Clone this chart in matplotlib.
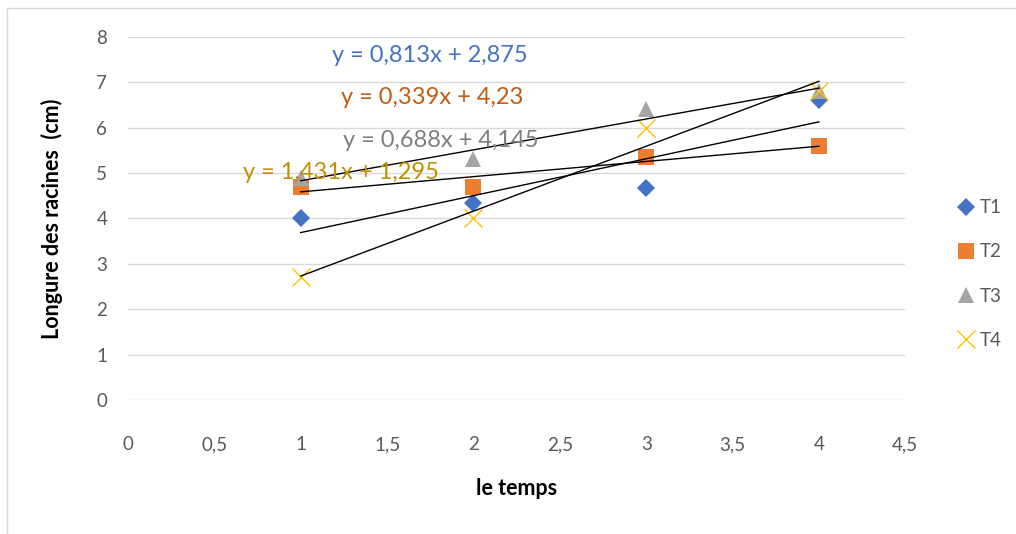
import matplotlib.pyplot as plt
import numpy as np
from matplotlib.patches import Rectangle

# temps (x) et longueur des racines pour chaque traitement
temps = [1, 2, 3, 4]
t1 = [4.0, 4.35, 4.68, 6.6]
t2 = [4.7, 4.7, 5.35, 5.6]
t3 = [4.9, 5.3, 6.4, 6.8]
t4 = [2.7, 4.0, 6.0, 6.8]

series_names = ['T1', 'T2', 'T3', 'T4']
equations = ['y = 0,813x + 2,875', 'y = 0,339x + 4,23',
             'y = 0,688x + 4,145', 'y = 1,431x + 1,295']
eq_pos = [(1.75, 7.58), (1.76, 6.67), (1.81, 5.72), (1.23, 5.01)]

plt.rcParams['font.family'] = ['Lato', 'DejaVu Sans']

fig = plt.figure(figsize=(10.16, 5.34), dpi=100)
ax = fig.add_axes([0.126, 0.251, 0.765, 0.680])

colors = ['#4472C4', '#ED7D31', '#A5A5A5', '#FFC000']
eq_colors = ['#4472C4', '#C55A11', '#7F7F7F', '#BF9000']
markers = ['D', 's', '^', 'x']
sizes = [9, 11, 11, 13]

for ys, name, c, m, s in zip([t1, t2, t3, t4], series_names, colors, markers, sizes):
    if m == 'x':
        ax.plot(temps, ys, linestyle='none', marker=m, color=c, markersize=s,
                markeredgewidth=1.0, label=name, zorder=3)
    else:
        ax.plot(temps, ys, linestyle='none', marker=m, color=c, markersize=s,
                markeredgewidth=0, label=name, zorder=3)

# droites de tendance (régression linéaire)
for ys in [t1, t2, t3, t4]:
    a, b = np.polyfit(temps, ys, 1)
    xx = np.array([temps[0], temps[-1]])
    ax.plot(xx, a * xx + b, color='black', linewidth=1, zorder=4)

for eq, (ex, ey), c in zip(equations, eq_pos, eq_colors):
    ax.text(ex, ey, eq, color=c, fontsize=17, ha='center', va='center', zorder=5)

ax.set_xlim(0, 4.5)
ax.set_ylim(0, 8)
ax.set_xticks(np.arange(0, 4.51, 0.5))
ax.set_xticklabels(['0', '0,5', '1', '1,5', '2', '2,5', '3', '3,5', '4', '4,5'])
ax.set_yticks(range(0, 9))
ax.tick_params(axis='both', length=0, labelsize=13.5, labelcolor='#595959')
ax.tick_params(axis='x', pad=26)
ax.tick_params(axis='y', pad=15)
ax.grid(axis='y', color='#D9D9D9', linewidth=1)
ax.set_axisbelow(True)
for sp in ax.spines.values():
    sp.set_visible(False)

ax.set_xlabel('le temps', fontsize=15.5, fontweight='bold', labelpad=18)
ax.set_ylabel('Longure des racines  (cm)', fontsize=15.5, fontweight='bold', labelpad=24)

ax.legend(loc='center left', bbox_to_anchor=(938 / 1016, 0.487),
          bbox_transform=fig.transFigure, frameon=False,
          fontsize=13.5, labelspacing=1.45, handletextpad=0.1, handlelength=1.2,
          labelcolor='#595959')

fig.patches.append(Rectangle((0.007, -0.1), 1.1, 1.085, transform=fig.transFigure,
                             fill=False, edgecolor='#D9D9D9', linewidth=1))

fig.savefig('out.png', dpi=100)
